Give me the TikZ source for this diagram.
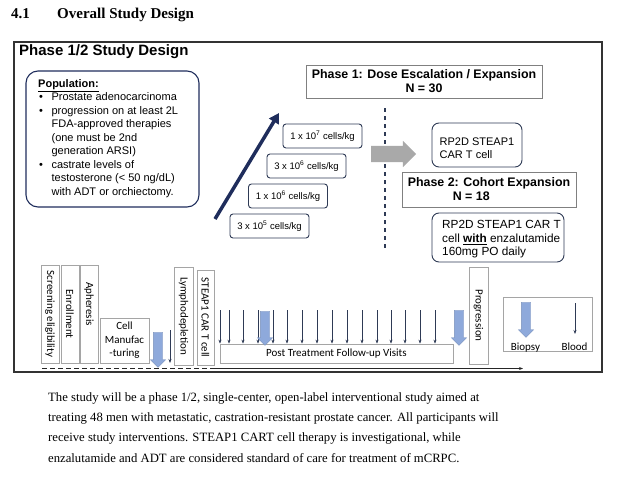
\documentclass[tikz,border=0pt]{standalone}
\usepackage{fontspec}
\setmainfont{Liberation Serif}
\setsansfont{Liberation Sans}
\newfontfamily\calfont{Carlito}
\usepackage{xcolor}
\usetikzlibrary{shapes.arrows,arrows.meta,positioning}

\definecolor{navyline}{HTML}{1F2D5C}
\definecolor{slateline}{HTML}{2E3A55}
\definecolor{tlgray}{HTML}{A5A5A5}
\definecolor{bluefill}{HTML}{8EA9DB}
\definecolor{arrowgray}{HTML}{A9A9A9}

\tikzset{
  dosebox/.style={draw=slateline, line width=0.9pt, rounded corners=3pt, minimum width=79pt, minimum height=24pt, inner sep=0pt, font=\sffamily\fontsize{9.5}{11}\selectfont},
  phasebox/.style={draw=gray, line width=0.7pt, inner sep=0pt, align=center, font=\sffamily\bfseries\fontsize{12.4}{14}\selectfont},
  armbox/.style={draw=slateline, line width=0.9pt, rounded corners=7pt, inner sep=0pt},
  armtext/.style={anchor=north west, inner sep=0pt, align=left, font=\sffamily\fontsize{11}{13}\selectfont},
  tlbox/.style={draw=tlgray, line width=0.7pt, inner sep=0pt, font=\calfont\fontsize{11}{13.5}\selectfont},
  visit/.style={draw=slateline, line width=0.55pt, -{Stealth[length=4pt,width=3pt]}},
  bluearrow/.style={single arrow, shape border rotate=270, fill=bluefill, draw=bluefill!85!black, line width=0.3pt, inner sep=4.5pt, minimum width=15pt, single arrow head extend=3pt},
}

\begin{document}
\begin{tikzpicture}[x=1pt, y=-1pt]
    \useasboundingbox (0,0) rectangle (624,479);
    % section heading
    \node[anchor=base west, inner sep=0pt, font=\bfseries\fontsize{15}{18}\selectfont] (secnum) at (11,18) {4.1};
    \node[anchor=base west, inner sep=0pt, font=\bfseries\fontsize{15}{18}\selectfont] (sectitle) at (57,18) {Overall Study Design};

    \node[draw=black!80, line width=1.4pt, minimum width=588pt, minimum height=330pt, inner sep=0pt] (frame) at (308,207) {};
    \node[anchor=base west, inner sep=0pt, font=\sffamily\bfseries\fontsize{15}{18}\selectfont] (title) at (19,55) {Phase 1/2 Study Design};

    % population
    \node[draw=navyline, line width=1.1pt, rounded corners=12pt, minimum width=173pt, minimum height=136pt, inner sep=0pt] (pop) at (112.5,139) {};
    \node[anchor=north west, inner sep=0pt, align=left, font=\sffamily\fontsize{11}{13.5}\selectfont] (poptext) at (38,79) {\underline{\textbf{Population:}}\\
        \hspace*{1pt}\textbullet\hspace*{8.5pt}Prostate adenocarcinoma\\
        \hspace*{1pt}\textbullet\hspace*{8.5pt}progression on at least 2L\\
        \hspace*{13.4pt}FDA-approved therapies\\
        \hspace*{13.4pt}(one must be 2nd\\
        \hspace*{13.4pt}generation ARSI)\\
        \hspace*{1pt}\textbullet\hspace*{8.5pt}castrate levels of\\
        \hspace*{13.4pt}testosterone (< 50 ng/dL)\\
        \hspace*{13.4pt}with ADT or orchiectomy.};

    % dose escalation
    \coordinate (escstart) at (215,219);
    \coordinate (escend) at (279,113);
    \draw[navyline, line width=3.5pt, -{Triangle[length=10pt,width=11pt]}] (escstart) -- (escend);
    \node[dosebox] (dose4) at (322.5,136) {1 x 10\textsuperscript{7} cells/kg};
    \node[dosebox] (dose3) at (306.5,166) {3 x 10\textsuperscript{6} cells/kg};
    \node[dosebox] (dose2) at (288,196) {1 x 10\textsuperscript{6} cells/kg};
    \node[dosebox] (dose1) at (269.5,226) {3 x 10\textsuperscript{5} cells/kg};

    \node[phasebox, minimum width=236pt, minimum height=33pt] (phase1) at (424,81.5) {Phase 1: Dose Escalation / Expansion\\N = 30};

    \coordinate (divtop) at (385,108);
    \coordinate (divbot) at (385,250);
    \draw[slateline, line width=1.1pt, dash pattern=on 4pt off 4pt] (divtop) -- (divbot);
    \node[single arrow, fill=arrowgray, inner sep=8pt, minimum height=45pt, minimum width=26pt, single arrow head extend=5pt] (tophase2) at (389.5,154) {};

    % phase 2 arms
    \node[armbox, minimum width=90pt, minimum height=44pt] (arm1) at (477,145) {};
    \node[armtext] (arm1text) at (439.5,138) {RP2D STEAP1\\CAR T cell};
    \node[phasebox, align=left, minimum width=174pt, minimum height=35pt] (phase2) at (489,189.5) {Phase 2: Cohort Expansion\\\hspace*{45pt}N = 18};
    \node[armbox, minimum width=132pt, minimum height=49pt] (arm2) at (498,237.5) {};
    \node[armtext, font=\sffamily\fontsize{11.8}{13.5}\selectfont] (arm2text) at (442,220.5) {RP2D STEAP1 CAR T\\cell \underline{\textbf{with}} enzalutamide\\160mg PO daily};

    % timeline
    \node[tlbox, minimum width=18pt, minimum height=98pt] (screen) at (50,314) {\rotatebox{-90}{Screening eligibility}};
    \node[tlbox, minimum width=18pt, minimum height=98pt] (enroll) at (70,314) {\rotatebox{-90}{Enrollment}};
    \node[tlbox, minimum width=18pt, minimum height=98pt] (apher) at (89,314) {\rotatebox{-90}{Apheresis\hspace*{20pt}}};
    \node[tlbox, align=center, minimum width=49pt, minimum height=45pt] (manuf) at (124.5,340.5) {Cell\\Manufac\\-turing};
    \node[bluearrow, minimum height=35pt] (biopsy1) at (158,347.5) {};
    \coordinate (blood1top) at (170,330);
    \coordinate (blood1bot) at (170,363);
    \draw[visit] (blood1top) -- (blood1bot);
    \node[tlbox, minimum width=19pt, minimum height=98pt] (lympho) at (183.5,316) {\rotatebox{-90}{Lymphodepletion}};
    \node[tlbox, minimum width=17pt, minimum height=95pt] (infuse) at (205.5,317.5) {\rotatebox{-90}{STEAP1 CAR T cell}};

    \node[tlbox, minimum width=233pt, minimum height=19pt] (post) at (336.5,353.5) {Post Treatment Follow-up Visits};
    \foreach \vx in {220,229,243,258,273,287,302,317,332,347,362,377,391,405,420,435}
        \draw[visit] (\vx,310) -- (\vx,0 |- post.north);
    \node[bluearrow, minimum height=34pt] (biopsy2) at (265,326) {};
    \node[bluearrow, minimum height=35pt] (biopsy3) at (459,325.5) {};
    \node[tlbox, minimum width=19pt, minimum height=97pt] (progr) at (478.5,315.5) {\rotatebox{-90}{Progression}};

    % legend
    \node[tlbox, minimum width=89pt, minimum height=54pt] (legend) at (547.5,324) {};
    \node[bluearrow, minimum height=35pt] (legbiopsy) at (526,317.5) {};
    \coordinate (legbloodtop) at (575,303);
    \coordinate (legbloodbot) at (575,334);
    \draw[visit] (legbloodtop) -- (legbloodbot);
    \node[anchor=base, inner sep=0pt, font=\calfont\fontsize{11}{13}\selectfont] (biopsylabel) at (525.5,350) {Biopsy};
    \node[anchor=base, inner sep=0pt, font=\calfont\fontsize{11}{13}\selectfont] (bloodlabel) at (574.5,350) {Blood};

    \coordinate (tlstart) at (42,368.5);
    \coordinate (tlmid) at (215,368.5);
    \coordinate (tlend) at (523,368.5);
    \draw[black!85, line width=1.3pt, dash pattern=on 5pt off 3pt] (tlstart) -- (tlmid);
    \draw[black!85, line width=0.8pt, -{Stealth[length=4pt,width=3pt]}] (tlmid) -- (tlend);

    % summary text
    \node[anchor=north west, inner sep=0pt, align=left, font=\fontsize{12.7}{20.4}\selectfont] (summary) at (48,392) {The study will be a phase 1/2, single-center, open-label interventional study aimed at\\
        treating 48 men with metastatic, castration-resistant prostate cancer. All participants will\\
        receive study interventions. STEAP1 CART cell therapy is investigational, while\\
        enzalutamide and ADT are considered standard of care for treatment of mCRPC.};
\end{tikzpicture}
\end{document}
